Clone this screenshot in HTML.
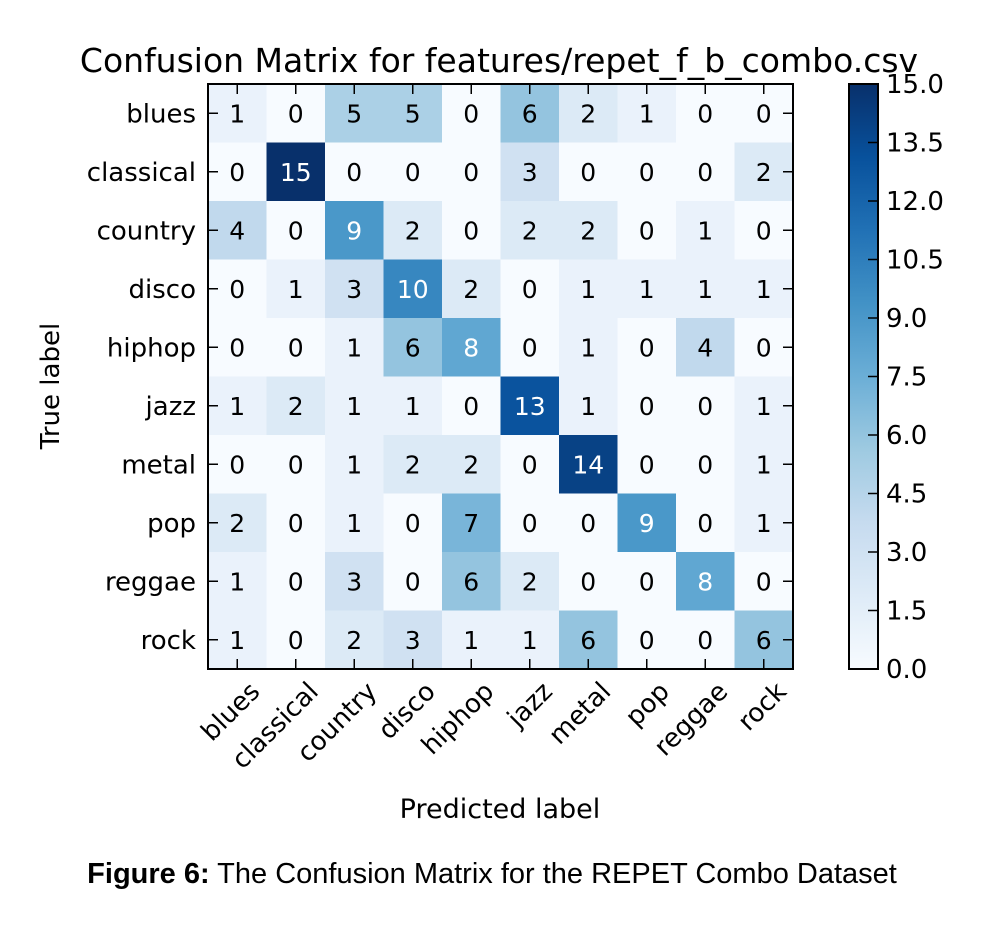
<!DOCTYPE html>
<html><head><meta charset="utf-8"><style>
body{margin:0;background:#fff;width:994px;height:922px;overflow:hidden}
svg text{font-family:"DejaVu Sans","Liberation Sans",sans-serif}
</style></head><body>
<svg id="chart" width="994" height="922" xmlns="http://www.w3.org/2000/svg">
<text x="499" y="72" font-size="33" text-anchor="middle">Confusion Matrix for features/repet_f_b_combo.csv</text>
<g id="cells"></g>
<g id="cbar"></g>
<text transform="translate(59,386) rotate(-90)" font-size="26" text-anchor="middle">True label</text>
<text x="500" y="818" font-size="27" text-anchor="middle">Predicted label</text>
<text x="492" y="883" font-size="29" text-anchor="middle" style="font-family:'Liberation Sans',sans-serif"><tspan font-weight="bold">Figure 6:</tspan> The Confusion Matrix for the REPET Combo Dataset</text>
</svg>
<script>
const labels=["blues","classical","country","disco","hiphop","jazz","metal","pop","reggae","rock"];
const matrix=[
[1,0,5,5,0,6,2,1,0,0],
[0,15,0,0,0,3,0,0,0,2],
[4,0,9,2,0,2,2,0,1,0],
[0,1,3,10,2,0,1,1,1,1],
[0,0,1,6,8,0,1,0,4,0],
[1,2,1,1,0,13,1,0,0,1],
[0,0,1,2,2,0,14,0,0,1],
[2,0,1,0,7,0,0,9,0,1],
[1,0,3,0,6,2,0,0,8,0],
[1,0,2,3,1,1,6,0,0,6]];
const cbTicks=["0.0","1.5","3.0","4.5","6.0","7.5","9.0","10.5","12.0","13.5","15.0"];
const vmax=15;
const L=208,T=84,W=585,H=585,n=labels.length,cw=W/n,ch=H/n;
const stops=["#f7fbff","#deebf7","#c6dbef","#9ecae1","#6baed6","#4292c6","#2171b5","#08519c","#08306b"];
function hex(c){return [1,3,5].map(i=>parseInt(c.substr(i,2),16));}
function blues(t){t=Math.max(0,Math.min(1,t));const p=t*(stops.length-1),i=Math.min(Math.floor(p),stops.length-2),f=p-i;
const a=hex(stops[i]),b=hex(stops[i+1]);return "rgb("+a.map((v,k)=>Math.round(v+(b[k]-v)*f)).join(",")+")";}
const NS="http://www.w3.org/2000/svg";
function mk(tag,attrs,parent,txt){const e=document.createElementNS(NS,tag);for(const k in attrs)e.setAttribute(k,attrs[k]);if(txt!==undefined)e.textContent=txt;parent.appendChild(e);return e;}
const xS=j=>L+j*cw, yS=i=>T+i*ch;
const g=document.getElementById("cells");
matrix.forEach((row,i)=>row.forEach((v,j)=>{
 const r=mk("rect",{x:xS(j),y:yS(i),width:cw+0.5,height:ch+0.5,fill:blues(v/vmax)},g);
 
 
 const t=mk("text",{x:xS(j)+cw/2,y:yS(i)+ch/2+9,"font-size":25,"text-anchor":"middle",fill:v>vmax/2?"#fff":"#000"},g,v);
 
 
}));
const fr=mk("rect",{x:L,y:T,width:W,height:H,fill:"none",stroke:"#000","stroke-width":2},g);


labels.forEach((lab,k)=>{
 const cx=xS(k)+cw/2, cy=yS(k)+ch/2;
 mk("line",{x1:cx,y1:T,x2:cx,y2:T+10,stroke:"#000","stroke-width":1.5},g);
 mk("line",{x1:cx,y1:T+H,x2:cx,y2:T+H-10,stroke:"#000","stroke-width":1.5},g);
 mk("line",{x1:L,y1:cy,x2:L+10,y2:cy,stroke:"#000","stroke-width":1.5},g);
 mk("line",{x1:L+W,y1:cy,x2:L+W-10,y2:cy,stroke:"#000","stroke-width":1.5},g);
 const yl=mk("text",{x:L-12,y:cy+9,"font-size":26,"text-anchor":"end"},g,lab);
 
 
 const xl=mk("text",{transform:"translate("+(cx+24)+","+(T+H+24)+") rotate(-45)","font-size":26,"text-anchor":"end"},g,lab);
 
 
});
const cb=document.getElementById("cbar");
const CX=849,CW=29;
const defs=mk("defs",{},cb);
const lg=mk("linearGradient",{id:"bg",x1:0,y1:1,x2:0,y2:0},defs);
stops.forEach((s,i)=>mk("stop",{offset:i/(stops.length-1),"stop-color":s},lg));
const cr=mk("rect",{x:CX,y:T,width:CW,height:H,fill:"url(#bg)",stroke:"#000","stroke-width":2},cb);


cbTicks.forEach((t,k)=>{
 const y=T+H-(parseFloat(t)/vmax)*H;
 mk("line",{x1:CX+CW-10,y1:y,x2:CX+CW,y2:y,stroke:"#000","stroke-width":1.5},cb);
 const tl=mk("text",{x:CX+CW+8,y:y+9,"font-size":26},cb,t);
 
 
});
</script>
</body></html>
